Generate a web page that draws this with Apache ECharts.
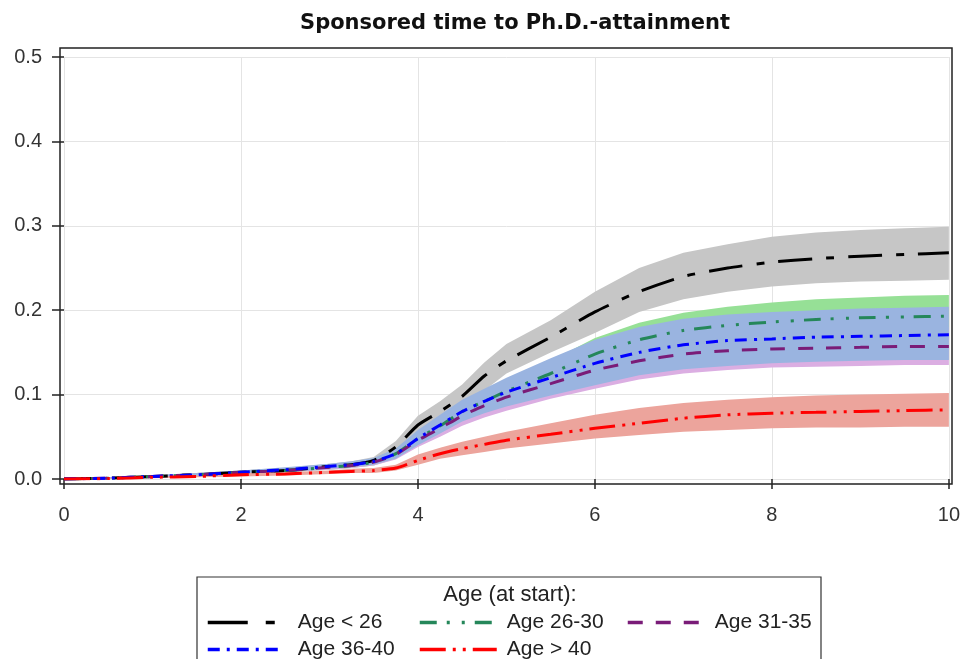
<!DOCTYPE html>
<html><head><meta charset="utf-8">
<script src="https://cdn.jsdelivr.net/npm/echarts@6/dist/echarts.min.js"></script>
<style>html,body{margin:0;padding:0;background:#fff}#c{width:963px;height:659px}</style>
</head><body><div id="c"></div>
<script>
const T = [0,0.5,1,1.5,2,2.5,3,3.25,3.5,3.75,4,4.25,4.5,4.75,5,5.5,6,6.5,7,7.5,8,8.5,9,9.5,10];
const xTicks = [0,2,4,6,8,10];
const yTicks = [0.0,0.1,0.2,0.3,0.4,0.5];

const a26Est = [0,0.001,0.003,0.005,0.008,0.010,0.015,0.017,0.022,0.038,0.064,0.080,0.098,0.122,0.140,0.168,0.198,0.222,0.240,0.250,0.257,0.261,0.264,0.266,0.268];
const a26Lo  = [0,0.0005,0.002,0.003,0.006,0.008,0.012,0.014,0.018,0.031,0.055,0.068,0.085,0.105,0.125,0.150,0.173,0.198,0.213,0.222,0.228,0.232,0.234,0.235,0.236];
const a26Hi  = [0,0.002,0.004,0.007,0.010,0.013,0.018,0.021,0.026,0.045,0.075,0.092,0.112,0.138,0.160,0.188,0.222,0.250,0.268,0.278,0.287,0.292,0.295,0.297,0.299];

const a2630Est = [0,0.001,0.003,0.005,0.008,0.010,0.014,0.016,0.020,0.030,0.048,0.063,0.080,0.092,0.104,0.125,0.148,0.165,0.176,0.182,0.186,0.189,0.191,0.192,0.193];
const a2630Lo  = [0,0.0005,0.002,0.003,0.006,0.008,0.011,0.013,0.016,0.024,0.040,0.053,0.068,0.079,0.090,0.109,0.129,0.145,0.155,0.161,0.165,0.168,0.170,0.171,0.172];
const a2630Hi  = [0,0.002,0.004,0.007,0.010,0.013,0.017,0.020,0.024,0.036,0.056,0.073,0.090,0.104,0.117,0.140,0.167,0.185,0.197,0.204,0.209,0.213,0.215,0.217,0.218];

const a3135Est = [0,0.001,0.003,0.005,0.008,0.010,0.014,0.016,0.020,0.029,0.046,0.060,0.075,0.087,0.097,0.113,0.129,0.140,0.148,0.152,0.154,0.155,0.156,0.157,0.157];
const a3135Lo  = [0,0.0005,0.002,0.003,0.006,0.008,0.011,0.013,0.016,0.023,0.038,0.050,0.063,0.073,0.081,0.095,0.107,0.118,0.125,0.129,0.132,0.133,0.134,0.135,0.135];
const a3135Hi  = [0,0.002,0.004,0.007,0.010,0.013,0.017,0.020,0.024,0.035,0.055,0.071,0.088,0.101,0.113,0.131,0.151,0.163,0.171,0.175,0.177,0.178,0.179,0.180,0.180];

const a3640Est = [0,0.001,0.003,0.005,0.008,0.011,0.015,0.017,0.021,0.030,0.048,0.064,0.080,0.092,0.103,0.120,0.137,0.150,0.159,0.164,0.166,0.168,0.169,0.170,0.171];
const a3640Lo  = [0,0.0005,0.002,0.003,0.006,0.008,0.012,0.014,0.017,0.024,0.040,0.054,0.068,0.078,0.086,0.099,0.111,0.123,0.130,0.134,0.137,0.139,0.140,0.141,0.141];
const a3640Hi  = [0,0.002,0.004,0.007,0.010,0.014,0.018,0.021,0.025,0.036,0.058,0.076,0.094,0.107,0.120,0.143,0.165,0.180,0.190,0.195,0.198,0.200,0.202,0.203,0.204];

const a40Est = [0,0.0005,0.002,0.003,0.005,0.006,0.008,0.009,0.010,0.013,0.022,0.030,0.036,0.041,0.046,0.053,0.060,0.066,0.072,0.076,0.078,0.079,0.080,0.081,0.082];
const a40Lo  = [0,0,0.001,0.002,0.003,0.004,0.006,0.007,0.007,0.010,0.017,0.024,0.028,0.032,0.036,0.042,0.048,0.052,0.056,0.058,0.060,0.061,0.061,0.062,0.062];
const a40Hi  = [0,0.001,0.003,0.004,0.007,0.008,0.010,0.012,0.013,0.017,0.029,0.037,0.044,0.050,0.056,0.066,0.076,0.084,0.090,0.094,0.097,0.099,0.100,0.101,0.102];

const groups = [
  {name:'Age < 26',  est:a26Est,   lo:a26Lo,   hi:a26Hi,   line:'#000000', band:'#c6c6c6', dash:[34,14,8,14], legDash:[40,18,9,20]},
  {name:'Age 26-30', est:a2630Est, lo:a2630Lo, hi:a2630Hi, line:'#25875a', band:'#96e096', dash:[17,10,3,12,3,10]},
  {name:'Age 31-35', est:a3135Est, lo:a3135Lo, hi:a3135Hi, line:'#7a1c78', band:'#dbaee2', dash:[15,13]},
  {name:'Age 36-40', est:a3640Est, lo:a3640Lo, hi:a3640Hi, line:'#0000ff', band:'#9ab4e0', dash:[12,7,3,7]},
  {name:'Age > 40',  est:a40Est,   lo:a40Lo,   hi:a40Hi,   line:'#ff0000', band:'#eca49c', dash:[26,7,3,7,3,7]}
];

const FONT = '"Liberation Sans", Arial, sans-serif';
const series = [];
groups.forEach((g) => {
  series.push({
    type:'custom', silent:true, z:1,
    data:T.map((t,k)=>[t,g.lo[k],g.hi[k]]),
    encode:{x:0, y:[1,2]},
    renderItem:(params, api) => {
      if (params.dataIndex !== 0) return null;
      const pts = [];
      for (let k = 0; k < T.length; k++) pts.push(api.coord([T[k], g.hi[k]]));
      for (let k = T.length - 1; k >= 0; k--) pts.push(api.coord([T[k], g.lo[k]]));
      return {type:'polygon', shape:{points:pts}, style:{fill:g.band, stroke:null}};
    }
  });
});
groups.forEach((g) => {
  series.push({
    type:'line', name:g.name, symbol:'none', showSymbol:false, smooth:0.2,
    data:T.map((t,k)=>[t,g.est[k]]),
    itemStyle:{color:g.line},
    lineStyle:{color:g.line, width:3, type:g.dash}, z:3
  });
});

function leg(g, left, top, w, pad) {
  const ls = {width:3.5};
  if (g.legDash) ls.type = g.legDash;
  return {
    orient:'horizontal', left:left, top:top, itemWidth:w, itemHeight:14, itemGap:0,
    data:[g.name], selectedMode:false,
    itemStyle:{opacity:0, color:'rgba(0,0,0,0)', borderWidth:0},
    lineStyle:ls,
    textStyle:{fontFamily:FONT, fontSize:21, color:'#222', padding:[0,0,0,pad]}
  };
}

const chart = echarts.init(document.getElementById('c'), null, {renderer:'canvas'});
chart.setOption({
  animation:false,
  backgroundColor:'#fff',
  title:[
    {text:'Sponsored time to Ph.D.-attainment', left:510, top:8, textAlign:'center',
     textStyle:{fontFamily:'"DejaVu Sans", Verdana, sans-serif', fontSize:21, fontWeight:'bold', color:'#111'}},
    {text:'Age (at start):', left:505, top:579, textAlign:'center',
     textStyle:{fontFamily:FONT, fontSize:22, fontWeight:'normal', color:'#222'}}
  ],
  grid:{left:64, right:13, top:57, bottom:180},
  xAxis:{type:'value', min:0, max:10, interval:2, offset:5,
    axisLine:{show:false},
    axisTick:{show:true, length:10, lineStyle:{color:'#222', width:1.5}},
    axisLabel:{fontFamily:FONT, fontSize:20, color:'#333', margin:21,
      formatter:v=>xTicks.indexOf(v)>=0?String(v):''},
    splitLine:{show:true, lineStyle:{color:'#e4e4e4', width:1}}
  },
  yAxis:{type:'value', min:0, max:0.5, interval:0.1, offset:4,
    axisLine:{show:false},
    axisTick:{show:true, length:12, lineStyle:{color:'#222', width:1.5}},
    axisLabel:{fontFamily:FONT, fontSize:20, color:'#333', margin:18,
      formatter:v=>{const f=yTicks.find(t=>Math.abs(t-v)<1e-9);return f===undefined?'':f.toFixed(1);}},
    splitLine:{show:true, lineStyle:{color:'#e4e4e4', width:1}}
  },
  legend:[
    leg(groups[0], 201, 607, 74, 11),
    leg(groups[3], 201, 634, 74, 11),
    leg(groups[1], 413, 607, 77, 5),
    leg(groups[4], 413, 634, 77, 5),
    leg(groups[2], 621, 607, 71, 11)
  ],
  graphic:[
    {type:'rect', shape:{x:60, y:48, width:892, height:436}, style:{fill:null, stroke:'#222', lineWidth:1.5}, z:10, silent:true},
    {type:'rect', shape:{x:197, y:577, width:624, height:95}, style:{fill:null, stroke:'#333', lineWidth:1.2}, z:10, silent:true}
  ],
  series:series
});
</script>
</body></html>
